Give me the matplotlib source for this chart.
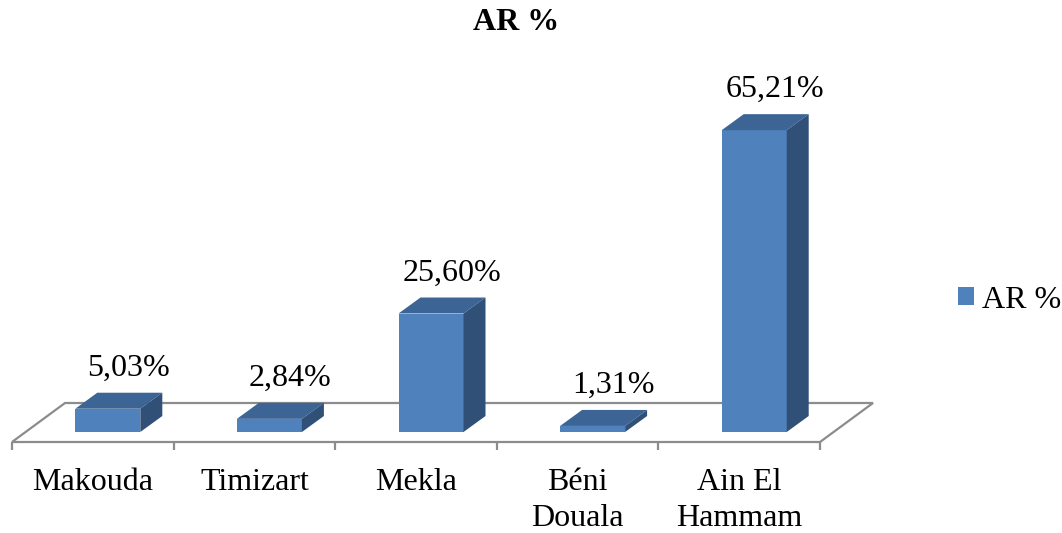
import matplotlib
matplotlib.use('Agg')
import matplotlib.pyplot as plt
from matplotlib.patches import Polygon, Patch
import numpy as np

# ---- data ----
categories = ['Makouda', 'Timizart', 'Mekla', 'Béni\nDouala', 'Ain El\nHammam']
values = [5.03, 2.84, 25.60, 1.31, 65.21]
value_labels = ['5,03%', '2,84%', '25,60%', '1,31%', '65,21%']
series_name = 'AR %'
title = 'AR %'

# ---- style ----
FRONT = '#4F81BD'
TOP = '#3C6494'
SIDE = '#305078'
FLOOR = '#8C8C8C'
FONT = 'Liberation Serif'
FS = 23

W, H = 1062, 533
fig = plt.figure(figsize=(W / 100, H / 100), dpi=100)
ax_left_px, ax_right_px = 12, 820
ax_bottom_px, ax_top_px = 442, 108
ymin, ymax = -2.16, 70
ax = fig.add_axes([ax_left_px / W, 1 - ax_bottom_px / H,
                   (ax_right_px - ax_left_px) / W, (ax_bottom_px - ax_top_px) / H])
n = len(categories)
ax.set_xlim(0, n)
ax.set_ylim(ymin, ymax)
ax.axis('off')

sx = (ax_right_px - ax_left_px) / n          # px per category unit
sy = (ax_bottom_px - ax_top_px) / (ymax - ymin)  # px per percent

# depth offsets (pixels -> data units)
floor_dx, floor_dy = 53 / sx, 39 / sy
bar_shift_x, bar_shift_y = 15 / sx, 10 / sy
bar_dx, bar_dy = 22 / sx, 16 / sy
bar_w = 65 / sx

y_floor = -bar_shift_y
centers = np.arange(n) + 0.5

# floor outline
floor = Polygon([(0, y_floor), (n, y_floor), (n + floor_dx, y_floor + floor_dy),
                 (floor_dx, y_floor + floor_dy)], closed=True, fill=False,
                edgecolor=FLOOR, lw=1.6, clip_on=False, zorder=1)
ax.add_patch(floor)
# tick marks on front edge
for i in range(n + 1):
    ax.plot([i, i], [y_floor, y_floor - 8 / sy], color=FLOOR, lw=1.6,
            clip_on=False, zorder=1, solid_capstyle='butt')

# bars
bx = centers + bar_shift_x
bars = ax.bar(bx, values, width=bar_w, color=FRONT, zorder=3, clip_on=False)
for b, v in zip(bars, values):
    xl = b.get_x()
    xr = xl + b.get_width()
    top = Polygon([(xl, v), (xr, v), (xr + bar_dx, v + bar_dy), (xl + bar_dx, v + bar_dy)],
                  closed=True, facecolor=TOP, edgecolor='none', zorder=3, clip_on=False)
    side = Polygon([(xr, 0), (xr, v), (xr + bar_dx, v + bar_dy), (xr + bar_dx, bar_dy)],
                   closed=True, facecolor=SIDE, edgecolor='none', zorder=3, clip_on=False)
    ax.add_patch(top)
    ax.add_patch(side)

# value labels
for x, v, lab in zip(bx, values, value_labels):
    ax.annotate(lab, xy=(x + bar_dx / 2, v + bar_dy), xytext=(10, 10),
                textcoords='offset pixels', ha='center', va='bottom',
                fontsize=FS, family=FONT, color='black', annotation_clip=False)

# category labels
for x, lab in zip(centers, categories):
    ax.annotate(lab, xy=(x, y_floor), xytext=(0, -26), textcoords='offset pixels',
                ha='center', va='top', fontsize=FS, family=FONT, color='black',
                linespacing=1.3, annotation_clip=False)

# title
fig.text(516 / W, 1 - 22 / H, title, ha='center', va='center', fontsize=FS,
         family=FONT, fontweight='bold')

# legend
handle = Patch(facecolor=FRONT, edgecolor='none', label=series_name)
fig.legend(handles=[handle], loc='center left', bbox_to_anchor=(958 / W, 1 - 300 / H),
           frameon=False, borderpad=0, borderaxespad=0, handlelength=0.5,
           handleheight=0.5, handletextpad=0.25,
           prop={'family': FONT, 'size': FS})

fig.savefig('out.png', dpi=100)
